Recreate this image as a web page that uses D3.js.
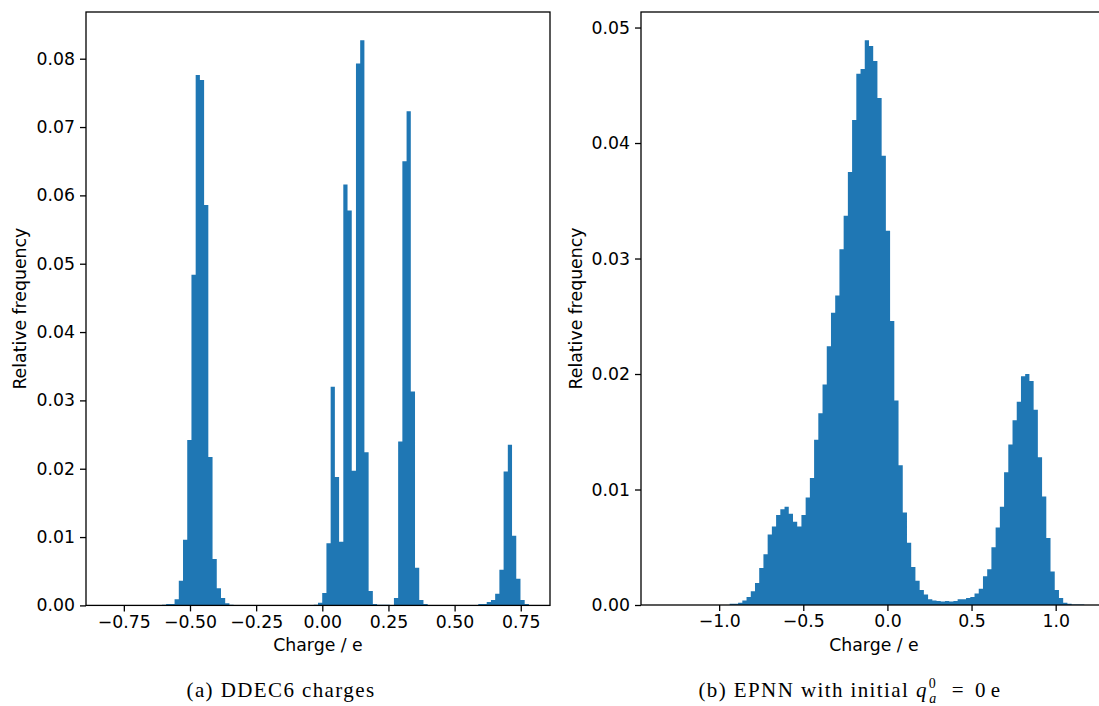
<!DOCTYPE html>
<html>
<head>
<meta charset="utf-8">
<script src="https://cdn.jsdelivr.net/npm/d3@7"></script>
<style>
  body { margin: 0; background: #fff; }
  svg text { font-family: "DejaVu Sans", sans-serif; fill: #000; }
  .caption { font-family: "Liberation Serif", serif; }
</style>
</head>
<body>
<svg id="fig" width="1099" height="706"></svg>
<script>
// (a) DDEC6 charges: 100 bins between ddecRange[0] and ddecRange[1]
const ddecRange = [-0.8133, 0.7808];
const ddecFreq = [
  0, 0, 0, 0, 0, 0, 0, 0, 0, 0,
  0, 0, 0, 0.0001, 0.0002, 0.0002, 0.0009, 0.0036, 0.0096, 0.0242,
  0.0484, 0.0776, 0.0769, 0.0586, 0.0217, 0.0068, 0.0025, 0.0011, 0.0003, 0.0001,
  0, 0, 0, 0, 0, 0, 0, 0, 0, 0,
  0, 0, 0, 0, 0, 0, 0, 0, 0, 0.0001,
  0.0004, 0.0018, 0.0091, 0.032, 0.0188, 0.0093, 0.0616, 0.0578, 0.0197, 0.0793,
  0.0827, 0.0224, 0.0021, 0.0002, 0.0001, 0.0001, 0.0001, 0, 0.0011, 0.024,
  0.065, 0.0723, 0.0313, 0.0055, 0.0008, 0.0002, 0, 0, 0, 0,
  0, 0, 0, 0, 0, 0, 0, 0, 0.0002, 0.0002,
  0.0005, 0.0008, 0.0017, 0.0052, 0.0196, 0.0235, 0.0102, 0.0039, 0.0008, 0.0002
];
const ddecXTicks = [-0.75, -0.5, -0.25, 0, 0.25, 0.5, 0.75];
const ddecYTicks = [0, 0.01, 0.02, 0.03, 0.04, 0.05, 0.06, 0.07, 0.08];

// (b) EPNN charges: 100 bins between epnnRange[0] and epnnRange[1]
const epnnRange = [-1.339, 1.170];
const epnnFreq = [
  0, 0, 0, 0, 0, 0, 0, 0, 0, 0,
  0, 0, 0, 0, 0, 0, 0.0001, 0.0001, 0.0002, 0.0004,
  0.0007, 0.0012, 0.0019, 0.0032, 0.0044, 0.0061, 0.0068, 0.0078, 0.0083, 0.0085,
  0.0079, 0.0072, 0.0068, 0.0078, 0.0093, 0.011, 0.0143, 0.0166, 0.0191, 0.0224,
  0.0253, 0.0268, 0.0308, 0.0337, 0.0375, 0.042, 0.046, 0.0464, 0.0489, 0.0484,
  0.0471, 0.0439, 0.0389, 0.0324, 0.0246, 0.0177, 0.0121, 0.008, 0.0054, 0.0033,
  0.0021, 0.0013, 0.0009, 0.0005, 0.0004, 0.00035, 0.0003, 0.00035, 0.0003, 0.00035,
  0.0005, 0.0005, 0.0006, 0.0007, 0.001, 0.0014, 0.0025, 0.0031, 0.005, 0.0067,
  0.0085, 0.0115, 0.0139, 0.016, 0.0176, 0.0198, 0.02, 0.0194, 0.0169, 0.0128,
  0.0094, 0.0058, 0.0029, 0.0013, 0.0006, 0.0002, 0.0001, 0.00005, 0.00005, 0.00005
];
const epnnXTicks = [-1, -0.5, 0, 0.5, 1];
const epnnYTicks = [0, 0.01, 0.02, 0.03, 0.04, 0.05];

const barColor = '#1f77b4';
const svg = d3.select('#fig');

function panel(opts) {
  const g = svg.append('g');
  const lo = opts.range[0], hi = opts.range[1];
  const bw = (hi - lo) / opts.freq.length;
  const pad = 0.05 * (hi - lo);
  const bins = opts.freq.map(function(v, i) {
    return {x0: lo + i * bw, x1: lo + (i + 1) * bw, v: v};
  });

  // set ranges
  let x = d3.scaleLinear()
    .domain([lo - pad, hi + pad])
    .range([opts.box.left, opts.box.right]);
  let y = d3.scaleLinear()
    .domain([0, d3.max(opts.freq) * 1.05])
    .range([opts.box.bottom, opts.box.top]);

  // bars as one step outline, so neighbouring bars don't show seams
  let p = d3.path();
  p.moveTo(x(bins[0].x0), y(0));
  bins.forEach(function(d) {
    p.lineTo(x(d.x0), y(d.v));
    p.lineTo(x(d.x1), y(d.v));
  });
  p.lineTo(x(bins[bins.length - 1].x1), y(0));
  p.closePath();
  g.append('path')
    .attr('d', p.toString())
    .attr('fill', barColor);

  // frame
  g.append('rect')
    .attr('x', opts.box.left)
    .attr('y', opts.box.top)
    .attr('width', opts.box.right - opts.box.left)
    .attr('height', opts.box.bottom - opts.box.top)
    .attr('fill', 'none')
    .attr('stroke', '#000')
    .attr('stroke-width', 1.3);

  // x-axis
  let ax = g.append('g')
    .attr('transform', 'translate(0,' + opts.box.bottom + ')')
    .call(d3.axisBottom(x).tickValues(opts.xTicks)
      .tickFormat(d3.format(opts.xFmt)).tickSize(6).tickPadding(4).tickSizeOuter(0));
  ax.select('.domain').remove();

  // y-axis
  let ay = g.append('g')
    .attr('transform', 'translate(' + opts.box.left + ',0)')
    .call(d3.axisLeft(y).tickValues(opts.yTicks)
      .tickFormat(d3.format('.2f')).tickSize(6).tickPadding(5).tickSizeOuter(0));
  ay.select('.domain').remove();

  [ax, ay].forEach(function(a) {
    a.selectAll('line').attr('stroke', '#000').attr('stroke-width', 1.3);
    a.selectAll('text')
      .attr('fill', '#000')
      .style('font-family', '"DejaVu Sans", sans-serif')
      .style('font-size', '17.3px');
  });

  // axis titles
  g.append('text')
    .attr('x', (opts.box.left + Math.min(opts.box.right, 1099)) / 2 + opts.xTitleShift)
    .attr('y', 651)
    .attr('text-anchor', 'middle')
    .style('font-size', '17.3px')
    .text('Charge / e');
  g.append('text')
    .attr('transform', 'translate(' + opts.yTitleX + ',' + ((opts.box.top + opts.box.bottom) / 2) + ') rotate(-90)')
    .attr('text-anchor', 'middle')
    .style('font-size', '17.3px')
    .text('Relative frequency');
  return g;
}

panel({
  range: ddecRange, freq: ddecFreq, xTicks: ddecXTicks, yTicks: ddecYTicks,
  xFmt: '.2f', box: {left: 86, right: 550, top: 12, bottom: 605.4},
  yTitleX: 26, xTitleShift: 0
});

panel({
  range: epnnRange, freq: epnnFreq, xTicks: epnnXTicks, yTicks: epnnYTicks,
  xFmt: '.1f', box: {left: 641, right: 1105.4, top: 12, bottom: 605},
  yTitleX: 582, xTitleShift: 4
});

// sub-figure captions
svg.append('text')
  .attr('class', 'caption')
  .attr('x', 281)
  .attr('y', 697)
  .attr('text-anchor', 'middle')
  .style('font-size', '21px')
  .style('letter-spacing', '1.4px')
  .text('(a) DDEC6 charges');

let cb = svg.append('text')
  .attr('class', 'caption')
  .attr('x', 850)
  .attr('y', 697)
  .attr('text-anchor', 'middle')
  .style('font-size', '21px')
  .style('letter-spacing', '1.4px');
cb.append('tspan').text('(b) EPNN with initial ');
cb.append('tspan').style('font-style', 'italic').text('q');
cb.append('tspan').attr('dy', -9).attr('dx', 1).style('font-size', '14px').text('0');
cb.append('tspan').attr('dy', 15).attr('dx', -8).style('font-size', '14px').style('font-style', 'italic').text('a');
cb.append('tspan').attr('dy', -6).attr('dx', 14).text('=');
cb.append('tspan').attr('dx', 10).text('0');
cb.append('tspan').attr('dx', 4).text('e');
</script>
</body>
</html>
